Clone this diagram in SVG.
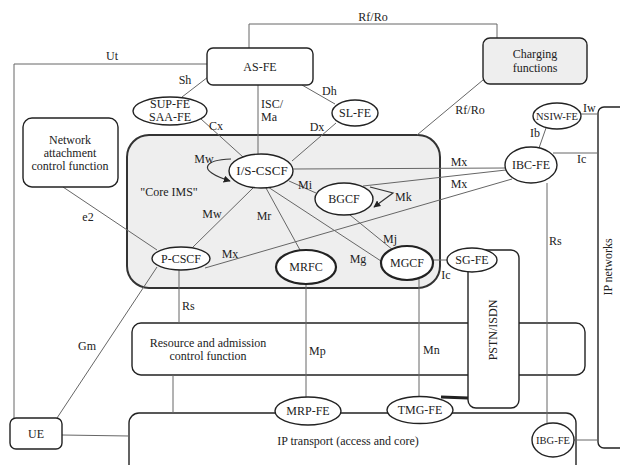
<svg xmlns="http://www.w3.org/2000/svg" width="620" height="465" viewBox="0 0 620 465">
<style>
text{font-family:"Liberation Serif","Times New Roman",serif;font-size:12px;fill:#222}
.c{text-anchor:middle}
.s{font-size:10.5px}
.box{fill:#fff;stroke:#222;stroke-width:1.4}
.gray{fill:#eeeeee;stroke:#222;stroke-width:1.4}
.el{fill:#fff;stroke:#222;stroke-width:1.4}
.thk{stroke-width:2.2}
.ln{fill:none;stroke:#666;stroke-width:1}
.dk{fill:none;stroke:#333;stroke-width:1.2}
</style>
<defs>
<marker id="ah" viewBox="0 0 10 10" refX="9" refY="5" markerWidth="7" markerHeight="7" orient="auto-start-reverse" markerUnits="userSpaceOnUse">
<path d="M0,0 L10,5 L0,10 z" fill="#222"/>
</marker>
</defs>
<rect width="620" height="465" fill="#fff"/>

<g id="core-ims">
<rect x="127" y="135" width="313" height="153" rx="22" fill="#eeeeee" stroke="#333" stroke-width="2"/>
<text x="169" y="196" class="c">"Core IMS"</text>
</g>
<g id="racf">
<rect x="132" y="323" width="453" height="52" rx="9" fill="none" stroke="#222" stroke-width="1.4"/>
<text x="208" y="347" class="c">Resource and admission</text>
<text x="208" y="360" class="c">control function</text>
</g>
<g id="ip-transport">
<rect x="129" y="413" width="447" height="70" rx="10" fill="none" stroke="#222" stroke-width="1.4"/>
<text x="348" y="445" class="c">IP transport (access and core)</text>
</g>
<g id="ip-networks">
<rect x="598" y="107" width="40" height="341" rx="6" fill="#fff" stroke="#222" stroke-width="1.4"/>
<text transform="translate(612,267) rotate(-90)" class="c">IP networks</text>
</g>
<g id="pstn-isdn">
<rect x="468" y="250" width="51" height="158" rx="8" class="box"/>
<text transform="translate(497,330) rotate(-90)" class="c">PSTN/ISDN</text>
</g>

<g id="connectors">
<path class="ln" d="M207 64 H14 V418"/>
<text x="112" y="60" class="c">Ut</text>
<path class="ln" d="M249 48 V24 H497 V38"/>
<text x="373" y="21" class="c">Rf/Ro</text>
<line class="ln" x1="208" y1="77" x2="182" y2="97"/>
<text x="185" y="84" class="c">Sh</text>
<line class="ln" x1="201" y1="119" x2="243" y2="157"/>
<text x="216" y="130" class="c">Cx</text>
<line class="ln" x1="258" y1="85" x2="258" y2="154"/>
<text x="261" y="108">ISC/</text>
<text x="261" y="121">Ma</text>
<line class="ln" x1="302" y1="85" x2="335" y2="104"/>
<text x="322" y="95">Dh</text>
<line class="ln" x1="336" y1="123" x2="292" y2="161"/>
<text x="317" y="131" class="c">Dx</text>
<line class="ln" x1="483" y1="80" x2="417" y2="135"/>
<text x="470" y="114" class="c">Rf/Ro</text>
<line class="ln" x1="63" y1="187" x2="157" y2="250"/>
<text x="88" y="221" class="c">e2</text>
<line class="ln" x1="193" y1="247" x2="253" y2="188"/>
<text x="212" y="218" class="c">Mw</text>
<path class="dk" d="M231 159 C205 160 195 170 230 181" marker-end="url(#ah)"/>
<text x="204" y="163" class="c">Mw</text>
<line class="ln" x1="289" y1="181" x2="316" y2="193"/>
<text x="305" y="189" class="c">Mi</text>
<path class="dk" d="M370 187 L393 193 L374 207" marker-end="url(#ah)"/>
<text x="395" y="201">Mk</text>
<line class="ln" x1="293" y1="169" x2="506" y2="168"/>
<text x="459" y="166" class="c">Mx</text>
<line class="ln" x1="363" y1="186" x2="506" y2="170"/>
<text x="459" y="188" class="c">Mx</text>
<line class="ln" x1="205" y1="268" x2="512" y2="179"/>
<text x="230" y="258" class="c">Mx</text>
<line class="ln" x1="266" y1="188" x2="300" y2="250"/>
<text x="264" y="220" class="c">Mr</text>
<line class="ln" x1="268" y1="187" x2="384" y2="263"/>
<text x="358" y="263" class="c">Mg</text>
<line class="ln" x1="350" y1="215" x2="393" y2="250"/>
<text x="390" y="243" class="c">Mj</text>
<line class="ln" x1="433" y1="260" x2="448" y2="260"/>
<text x="446" y="279" class="c">Ic</text>
<line class="ln" x1="179" y1="270" x2="179" y2="323"/>
<text x="182" y="310">Rs</text>
<line class="ln" x1="57" y1="418" x2="157" y2="267"/>
<text x="87" y="350" class="c">Gm</text>
<line class="ln" x1="62" y1="435" x2="129" y2="436"/>
<line class="ln" x1="173" y1="375" x2="173" y2="413"/>
<line class="ln" x1="306" y1="284" x2="306" y2="398"/>
<text x="309" y="355">Mp</text>
<line class="ln" x1="419" y1="279" x2="419" y2="397"/>
<text x="423" y="354">Mn</text>
<line x1="441" y1="397" x2="468" y2="398" stroke="#222" stroke-width="3"/>
<line class="ln" x1="547" y1="183" x2="547" y2="423"/>
<text x="549" y="245">Rs</text>
<line class="ln" x1="574" y1="440" x2="598" y2="440"/>
<line class="ln" x1="546" y1="128" x2="539" y2="148"/>
<text x="530" y="137">Ib</text>
<line class="ln" x1="580" y1="114" x2="598" y2="114"/>
<text x="583" y="112">Iw</text>
<line class="ln" x1="553" y1="153" x2="598" y2="153"/>
<text x="577" y="163">Ic</text>
</g>

<g id="as-fe">
<rect x="207" y="48" width="106" height="37" rx="6" class="box"/>
<text x="260" y="71" class="c">AS-FE</text>
</g>
<g id="charging">
<rect x="483" y="38" width="104" height="46" rx="7" class="gray"/>
<text x="535" y="58" class="c">Charging</text>
<text x="535" y="72" class="c">functions</text>
</g>
<g id="nacf">
<rect x="23" y="118" width="95" height="69" rx="9" class="box"/>
<text x="70" y="144" class="c">Network</text>
<text x="70" y="157" class="c">attachment</text>
<text x="70" y="170" class="c">control function</text>
</g>
<g id="sup-fe">
<ellipse cx="170" cy="111" rx="37" ry="14" class="el"/>
<text x="170" y="108" class="c">SUP-FE</text>
<text x="170" y="121" class="c">SAA-FE</text>
</g>
<g id="sl-fe">
<ellipse cx="355" cy="113" rx="23" ry="13" class="el"/>
<text x="355" y="117" class="c">SL-FE</text>
</g>
<g id="is-cscf">
<ellipse cx="261" cy="171" rx="32" ry="17" class="el"/>
<text x="262" y="175" class="c" style="font-size:13px">I/S-CSCF</text>
</g>
<g id="bgcf">
<ellipse cx="344" cy="199" rx="29" ry="16" class="el"/>
<text x="344" y="203" class="c">BGCF</text>
</g>
<g id="p-cscf">
<ellipse cx="181" cy="258.5" rx="29" ry="11.5" class="el"/>
<text x="181" y="263" class="c">P-CSCF</text>
</g>
<g id="mrfc">
<ellipse cx="306" cy="267" rx="30" ry="17" class="el thk"/>
<text x="306" y="271" class="c">MRFC</text>
</g>
<g id="mgcf">
<ellipse cx="407" cy="263" rx="26" ry="17" class="el thk"/>
<text x="407" y="267" class="c">MGCF</text>
</g>
<g id="sg-fe">
<ellipse cx="472" cy="260" rx="25" ry="12" class="el"/>
<text x="472" y="264" class="c">SG-FE</text>
</g>
<g id="nsiw-fe">
<ellipse cx="557" cy="116" rx="24" ry="13" class="el"/>
<text x="557" y="120" class="c s">NSIW-FE</text>
</g>
<g id="ibc-fe">
<ellipse cx="531" cy="165" rx="26" ry="18" class="el"/>
<text x="531" y="169" class="c">IBC-FE</text>
</g>
<g id="mrp-fe">
<ellipse cx="308" cy="411" rx="33" ry="14" class="el"/>
<text x="308" y="415" class="c">MRP-FE</text>
</g>
<g id="tmg-fe">
<ellipse cx="420" cy="410" rx="33" ry="13.5" class="el"/>
<text x="420" y="414" class="c">TMG-FE</text>
</g>
<g id="ibg-fe">
<ellipse cx="553" cy="440" rx="21" ry="17" class="el"/>
<text x="553" y="444" class="c s">IBG-FE</text>
</g>
<g id="ue">
<rect x="10" y="418" width="52" height="31" rx="6" class="box"/>
<text x="36" y="438" class="c">UE</text>
</g>
</svg>
